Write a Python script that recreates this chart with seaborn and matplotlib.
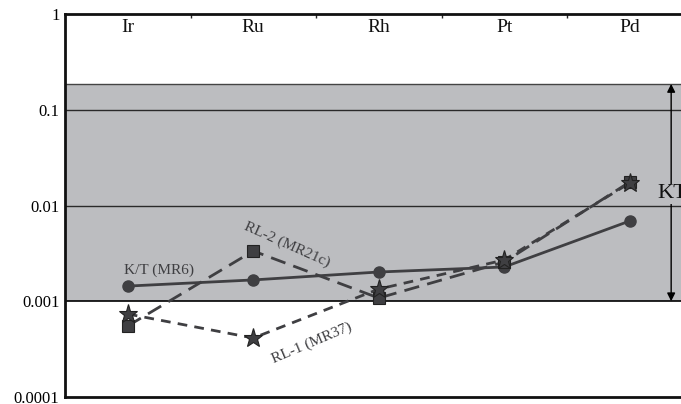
import numpy as np
import pandas as pd
import matplotlib
matplotlib.use("Agg")
import matplotlib.pyplot as plt
import seaborn as sns
from matplotlib.ticker import FixedLocator, NullLocator
from matplotlib.transforms import blended_transform_factory

elements = ["Ir", "Ru", "Rh", "Pt", "Pd"]
kt_mr6 = [0.00144, 0.00167, 0.00202, 0.00228, 0.00689]
rl2_mr21c = [0.000552, 0.00335, 0.00108, 0.00257, 0.0176]
rl1_mr37 = [0.000736, 0.000413, 0.00134, 0.00270, 0.0172]
series_names = ["K/T (MR6)", "RL-2 (MR21c)", "RL-1 (MR37)"]
band_low, band_high = 0.001, 0.186
y_ticks = [0.0001, 0.001, 0.01, 0.1, 1]
y_tick_labels = ["0.0001", "0.001", "0.01", "0.1", "1"]
grid_vals = [0.1, 0.01]

df = pd.DataFrame({
    "element": elements * 3,
    "value": kt_mr6 + rl2_mr21c + rl1_mr37,
    "series": [series_names[0]] * 5 + [series_names[1]] * 5 + [series_names[2]] * 5,
})

sns.set_style("white")
plt.rcParams["font.family"] = ["Liberation Serif", "DejaVu Serif"]

W, H = 681, 404
fig = plt.figure(figsize=(W / 100, H / 100), dpi=100)
ax = fig.add_axes([65 / W, 1 - 397 / H, (692.5 - 65) / W, (397 - 14) / H])

col = "#3f3f42"
# band
ax.axhspan(band_low, band_high, color="#bcbdc0", zorder=0, lw=0)
ax.axhline(band_high, color="#444444", lw=1.0, zorder=1)
for g in grid_vals:
    ax.axhline(g, color="#2a2a2a", lw=1.0, zorder=1)
ax.axhline(band_low, color="black", lw=1.2, zorder=1)

sns.lineplot(data=df, x="element", y="value", hue="series", style="series",
             palette={n: col for n in series_names},
             markers={series_names[0]: "o", series_names[1]: "s", series_names[2]: "*"},
             dashes={series_names[0]: "", series_names[1]: (5.5, 3), series_names[2]: (3.5, 2.6)},
             linewidth=2.0, markersize=0, legend=False, ax=ax, zorder=3, sort=False)

# markers
xs = np.arange(len(elements))
ax.plot(xs, kt_mr6, ls="none", marker="o", ms=8, color=col, zorder=4)
ax.plot(xs, rl2_mr21c, ls="none", marker="s", ms=8, mfc=col, mec="#222222", mew=0.8, zorder=4)
ax.plot(xs, rl1_mr37, ls="none", marker="*", ms=14, mfc=col, mec="#222222", mew=0.8, zorder=5)

ax.set_yscale("log")
ax.set_ylim(0.0001, 1)
ax.set_xlim(-0.5, 4.5)
ax.yaxis.set_major_locator(FixedLocator(y_ticks))
ax.yaxis.set_minor_locator(NullLocator())
ax.set_yticklabels(y_tick_labels)
ax.set_xlabel("")
ax.set_ylabel("")
ax.tick_params(axis="y", which="major", direction="out", length=3, width=1,
               labelsize=12, pad=1, colors="black")

ax.xaxis.set_ticks_position("top")
ax.set_xticks([0.5, 1.5, 2.5, 3.5])
ax.set_xticklabels([])
ax.tick_params(axis="x", direction="in", length=3, width=1, top=True, bottom=False)

for s in ["left", "top", "bottom"]:
    ax.spines[s].set_linewidth(2.0)
    ax.spines[s].set_color("#111111")
ax.spines["right"].set_visible(False)

tr = blended_transform_factory(ax.transData, ax.transAxes)
for i, e in enumerate(elements):
    ax.text(i, 0.966, e, transform=tr, ha="center", va="center", fontsize=14, color="#111111")

# labels of series
ax.text(-0.03, 0.0021, series_names[0], fontsize=11, color=col, ha="left", va="center")
ax.text(1.27, 0.0039, series_names[1], fontsize=11, color=col, ha="center", va="center", rotation=-24)
ax.text(1.47, 0.00037, series_names[2], fontsize=11, color=col, ha="center", va="center", rotation=23)

# KT arrow
ax.annotate("", xy=(4.33, band_high), xytext=(4.33, band_low),
            arrowprops=dict(arrowstyle="<|-|>", color="black", lw=1.0, mutation_scale=12,
                            shrinkA=0, shrinkB=0), zorder=6)
ax.text(4.22, 0.0132, "KT", fontsize=16, color="#111111", ha="left", va="center",
        zorder=7, bbox=dict(facecolor="#bcbdc0", edgecolor="none", pad=0.5))

fig.savefig("out.png", dpi=100)
